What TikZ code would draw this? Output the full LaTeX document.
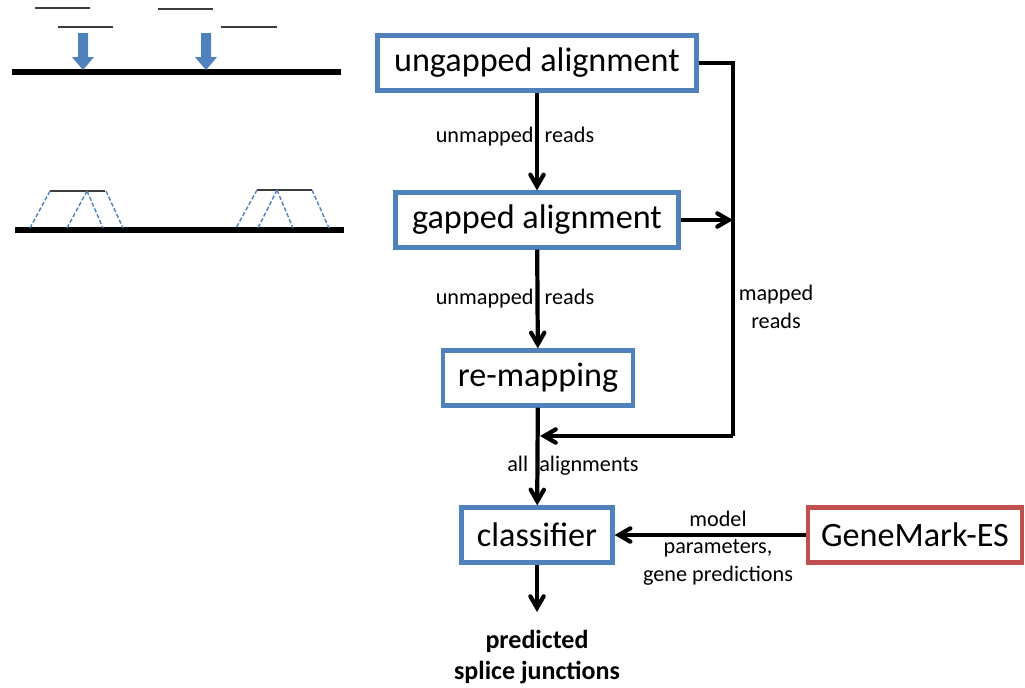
\documentclass[tikz,border=0pt]{standalone}
\usepackage{fontspec}
\setmainfont{Carlito}
\usetikzlibrary{arrows}
\definecolor{boxblue}{RGB}{79,129,189}
\definecolor{boxred}{RGB}{192,80,77}
\definecolor{readgray}{RGB}{60,60,60}
\tikzstyle{stage} = [rectangle,
minimum height=55*0.025cm,
text centered,
draw=boxblue,
line width=3pt,
font=\fontsize{24.3}{28}\selectfont]
\tikzstyle{tool} = [stage, draw=boxred]
\tikzstyle{flow} = [->, >=angle 60, line width=3pt]
\tikzstyle{lbl} = [font=\fontsize{15.8}{20}\selectfont, align=center]
\tikzstyle{genome} = [line width=3.6pt]
\tikzstyle{read} = [line width=1.4pt, draw=readgray]
\tikzstyle{split} = [dash pattern=on 3pt off 1.5pt, boxblue, line width=1pt]

\begin{document}
\begin{tikzpicture}[x=0.025cm, y=-0.025cm]
\useasboundingbox (0,0) rectangle (1025,687);

% pipeline stages
\node (ungapped) [stage, minimum width=319*0.025cm] at (537,63) {ungapped alignment};
\node (gapped) [stage, minimum width=283*0.025cm] at (537,220) {gapped alignment};
\node (remap) [stage, minimum width=190*0.025cm] at (538,378) {re-mapping};
\node (classifier) [stage, minimum width=151*0.025cm] at (537,535) {classifier};
\node (genemark) [tool, minimum width=214*0.025cm] at (915,535) {GeneMark-ES};
\node (result) [lbl, font=\fontsize{18.5}{22}\bfseries] at (537,657) {predicted\\splice junctions};

\coordinate (corner) at (733,436);
\coordinate (merge) at (540,436);

\draw [flow] (ungapped) -- (gapped);
\draw [flow] (gapped) -- (remap);
\draw [flow] (remap) -- (classifier);
\draw [line width=3pt] (ungapped.east) -| (corner);
\draw [flow] (corner) -- (merge);
\draw [flow] (gapped.east) -- (gapped.east -| corner);
\draw [flow] (genemark) -- (classifier);
\draw [flow] (classifier.south) -- (537,612) coordinate (out);

% connector labels
\node [lbl] at (515,137) {unmapped\hspace{0.5em}reads};
\node [lbl] at (515,299) {unmapped\hspace{0.5em}reads};
\node [lbl, font=\fontsize{15.8}{20}\selectfont] at (776,307) {mapped\\reads};
\node [lbl] at (573,466) {all\hspace{0.5em}alignments};
\node [lbl, font=\fontsize{15.8}{19.5}\selectfont] at (718,548) {model\\parameters,\\gene predictions};

% ungapped reads on the genome
\draw [genome] (12,72) -- (341,72);
\draw [read] (35,8) -- (90,8);
\draw [read] (58,27) -- (113,27);
\draw [read] (158,9) -- (213,9);
\draw [read] (221,27) -- (277,27);
\foreach \ax in {83,206}
  \fill [boxblue] (\ax-5,33) -- (\ax+5,33) -- (\ax+5,57) -- (\ax+11,57)
    -- (\ax,70) -- (\ax-11,57) -- (\ax-5,57) -- cycle;

% spliced reads on the genome
\draw [genome] (15,230) -- (344,230);
\draw [read] (50,191) -- (105,191);
\draw [read] (257,190) -- (312,190);
\draw [split] (50,191) -- (30,228) (87,191) -- (67,228) (87,191) -- (103,228) (106,191) -- (123,228);
\draw [split] (257,190) -- (236,228) (277,190) -- (258,228) (277,190) -- (293,228) (312,190) -- (329,228);
\end{tikzpicture}
\end{document}
